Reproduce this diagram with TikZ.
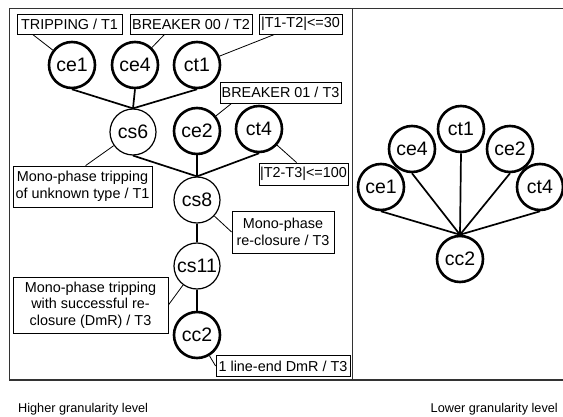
\documentclass[tikz,border=0pt]{standalone}
\usepackage{fontspec}
\setmainfont{Liberation Sans}
\begin{document}
\begin{tikzpicture}[x=1pt,y=-1pt,
  lbl/.style={draw,line width=0.8pt,inner sep=0pt,align=center,
    font=\fontsize{14.4}{16.5}\selectfont},
  cthick/.style={circle,draw,line width=2.6pt,minimum size=46pt,inner sep=0pt,
    font=\fontsize{19.5}{20}\selectfont},
  cthin/.style={circle,draw,line width=1.2pt,minimum size=46pt,inner sep=0pt,
    font=\fontsize{19.5}{20}\selectfont},
  edge/.style={line width=1.7pt},
  lk/.style={line width=0.8pt},
  frame/.style={line width=1.1pt,black!80},
  captxt/.style={font=\fontsize{12.7}{14}\selectfont,inner sep=0pt}]
\useasboundingbox (0,0) rectangle (563,417);
% frame
\draw[frame] (563,8.7) -- (9.3,8.7) -- (9.3,380) -- (563,380);
\draw[frame] (352.7,8.7) -- (352.7,380);
% left circles
\node[cthick] (ce1) at (72,65) {ce1};
\node[cthick] (ce4) at (135,65) {ce4};
\node[cthick] (ct1) at (197,65) {ct1};
\node[cthin] (cs6) at (133,132) {cs6};
\node[cthick] (ce2) at (197,131) {ce2};
\node[cthick] (ct4) at (259,129) {ct4};
\node[cthin] (cs8) at (197,200) {cs8};
\node[cthin] (cs11) at (197,266) {cs11};
\node[cthick] (cc2) at (197,335) {cc2};
% label boxes
\node[lbl,minimum width=105pt,minimum height=20pt] (trip) at (69.5,24) {TRIPPING / T1};
\node[lbl,minimum width=122pt,minimum height=20pt] (brk00) at (191,24) {BREAKER 00 / T2};
\node[lbl,minimum width=83pt,minimum height=20pt] (t1t2) at (300.5,24) {|T1-T2|<=30};
\node[lbl,minimum width=121pt,minimum height=21pt] (brk01) at (280.5,92.5) {BREAKER 01 / T3};
\node[lbl,minimum width=89pt,minimum height=22pt] (t2t3) at (303.5,174) {|T2-T3|<=100};
\node[lbl,minimum width=139pt,minimum height=41pt] (unk) at (82.5,186.5) {Mono-phase tripping\\of unknown type / T1};
\node[lbl,minimum width=102pt,minimum height=42pt] (reclos) at (283,232) {Mono-phase\\re-closure / T3};
\node[lbl,minimum width=155pt,minimum height=56pt] (succ) at (90.5,305) {Mono-phase tripping\\with successful re-\\closure (DmR) / T3};
\node[lbl,minimum width=134pt,minimum height=21pt] (lineend) at (283,366) {1 line-end DmR / T3};
% edges
\draw[edge] (ce1.south) -- (cs6.north);
\draw[edge] (ce4.south) -- (cs6.north);
\draw[edge] (ct1.south) -- (cs6.north);
\draw[edge] (cs6.south) -- (cs8.north);
\draw[edge] (ce2.south) -- (cs8.north);
\draw[edge] (ct4.south) -- (cs8.north);
\draw[edge] (cs8) -- (cs11);
\draw[edge] (cs11) -- (cc2);
% label links
\draw[lk] ([xshift=16pt]trip.south west) -- (ce1);
\draw[lk] ([xshift=35pt]brk00.south west) -- (ce4);
\draw[lk] ([xshift=16pt]t1t2.south west) -- (ct1);
\draw[lk] ([xshift=12pt]brk01.south west) -- (ce2);
\draw[lk] (ct4) -- ([xshift=38pt]t2t3.north west);
\draw[lk] (cs6) -- ([xshift=73pt]unk.north west);
\draw[lk] (cs8) -- (reclos.west);
\draw[lk] (cs11) -- (succ.east);
\draw[lk] (cc2) -- (lineend.west);
% right side
\node[cthick] (rce1) at (381,187) {ce1};
\node[cthick] (rce4) at (412,149) {ce4};
\node[cthick] (rct1) at (461,129) {ct1};
\node[cthick] (rce2) at (510,149) {ce2};
\node[cthick] (rct4) at (540,187) {ct4};
\node[cthick] (rcc2) at (460,259) {cc2};
\draw[edge] (rce1.south) -- (rcc2.north);
\draw[edge] (rce4.south) -- (rcc2.north);
\draw[edge] (rct1.south) -- (rcc2.north);
\draw[edge] (rce2.south) -- (rcc2.north);
\draw[edge] (rct4.south) -- (rcc2.north);
% captions
\node[captxt,anchor=base west] (hi) at (18,412) {Higher granularity level};
\node[captxt,anchor=base east] (lo) at (558,412) {Lower granularity level};
\end{tikzpicture}
\end{document}
